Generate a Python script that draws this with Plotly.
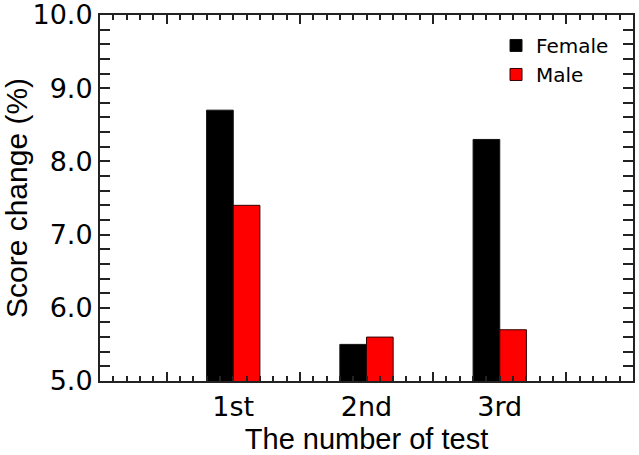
import plotly.graph_objects as go

categories = ["1st", "2nd", "3rd"]
cat_pos = [1, 2, 3]
female = [8.7, 5.5, 8.3]
male = [7.4, 5.6, 5.7]
y_ticks = [5, 6, 7, 8, 9, 10]

TICKFONT = "DejaVu Sans"

fig = go.Figure()
fig.add_trace(go.Bar(x=cat_pos, y=female, name="Female",
                     marker=dict(color="#000000", line=dict(color="#111111", width=1))))
fig.add_trace(go.Bar(x=cat_pos, y=male, name="Male",
                     marker=dict(color="#ff0000", line=dict(color="#330000", width=1))))
# empty helper trace so the label axis is created
fig.add_trace(go.Scatter(x=[], y=[], xaxis="x2", yaxis="y", showlegend=False, hoverinfo="skip"))

fig.update_layout(
    width=639, height=455,
    margin=dict(l=100, r=6, t=15, b=74, autoexpand=False),
    plot_bgcolor="white", paper_bgcolor="white",
    barmode="group", bargap=0.6, bargroupgap=0,
    showlegend=True,
    legend=dict(x=0.743, y=0.97, xanchor="left", yanchor="top",
                bgcolor="rgba(0,0,0,0)", font=dict(family=TICKFONT, size=20, color="#000"),
                tracegroupgap=2),
    xaxis=dict(range=[0, 4], tickmode="array", tickvals=[0.5, 1.5, 2.5, 3.5],
               showticklabels=False, ticks="inside", ticklen=9, tickwidth=2, tickcolor="#222",
               minor=dict(tickmode="linear", tick0=0, dtick=0.1, ticks="inside",
                          ticklen=5, tickwidth=1.5, tickcolor="#222"),
               showline=True, linewidth=2, linecolor="#222", mirror="allticks",
               showgrid=False, zeroline=False, layer="above traces", automargin=False),
    xaxis2=dict(overlaying="x", side="bottom", range=[0, 4],
                tickmode="array", tickvals=cat_pos, ticktext=categories, ticks="",
                ticklabelstandoff=7, ticklabeloverflow="allow",
                tickfont=dict(family=TICKFONT, size=27, color="#000"),
                showline=False, showgrid=False, zeroline=False, automargin=False,
                title=dict(text="The number of test", standoff=13,
                           font=dict(family="Liberation Sans", size=29, color="#000"))),
    yaxis=dict(range=[5, 10], tickmode="array", tickvals=y_ticks,
               ticktext=[f"{v:.1f}" for v in y_ticks],
               ticks="inside", ticklen=10, tickwidth=2, tickcolor="#222",
               minor=dict(tickmode="linear", tick0=5, dtick=0.2, ticks="inside",
                          ticklen=6, tickwidth=1.5, tickcolor="#222"),
               showline=True, linewidth=2, linecolor="#222", mirror="allticks",
               showgrid=False, zeroline=False, automargin=False,
               ticklabeloverflow="allow",
               tickfont=dict(family=TICKFONT, size=27, color="#000"),
               title=dict(text="Score change (%)", standoff=12,
                          font=dict(family="Liberation Sans", size=30, color="#000"))),
)

fig.write_html("out.html", config={"displayModeBar": False},
               post_script="document.body.style.margin='0';")
